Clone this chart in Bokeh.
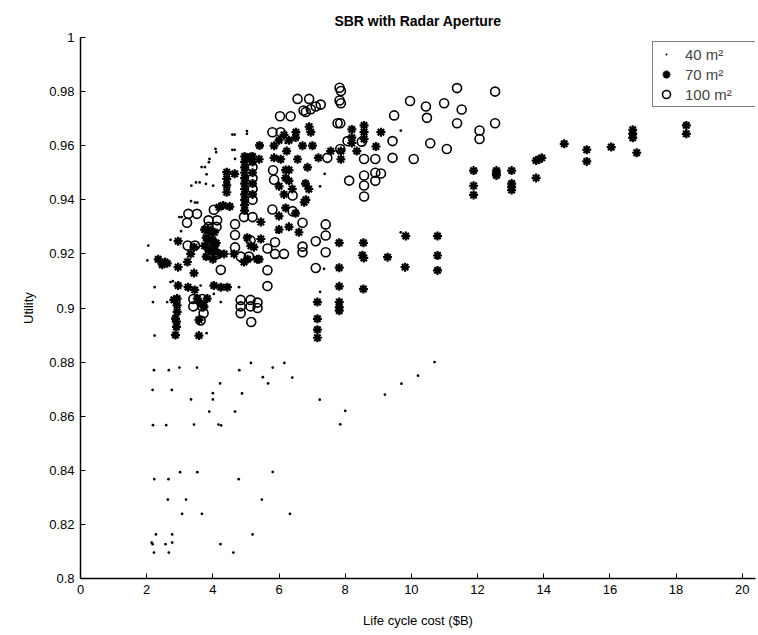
from bokeh.plotting import figure
from bokeh.models import Range1d, FixedTicker, CustomJSTickFormatter, Legend, LegendItem
from bokeh.embed import file_html
from bokeh.resources import INLINE

title_text = "SBR with Radar Aperture"
x_label = "Life cycle cost ($B)"
y_label = "Utility"
series_labels = ["40 m\u00b2", "70 m\u00b2", "100 m\u00b2"]
x_ticks = [0, 2, 4, 6, 8, 10, 12, 14, 16, 18, 20]
y_ticks = [0.8, 0.82, 0.84, 0.86, 0.88, 0.9, 0.92, 0.94, 0.96, 0.98, 1.0]

# 40 m^2 (dots)
a40_x = [2.22, 2.67, 2.99, 3.52, 4.80, 5.15, 5.81, 6.16, 5.51, 6.40, 5.67, 4.22, 2.18, 2.76, 4.00, 4.88,
         3.34, 4.00, 7.23, 3.89, 4.67, 2.19, 2.59, 3.43, 4.17, 4.25, 3.01, 3.53, 5.81, 2.23, 2.66, 4.78,
         2.64, 3.19, 5.48, 3.07, 3.67, 6.33, 2.28, 2.77, 5.20, 2.15, 2.18, 2.57, 2.77, 4.23, 2.22, 2.67, 4.62,
         7.85, 8.0, 9.2, 9.7, 10.2, 10.7,
         2.05, 2.02, 3.04, 2.72, 2.72, 2.79, 2.24, 2.19, 2.62, 2.24, 3.81, 4.24, 4.79, 3.63, 4.03, 5.93, 7.36, 7.24, 9.68,
         4.59, 4.66, 5.03, 5.03, 4.08, 4.10, 4.59, 4.66, 4.67, 3.90, 3.88, 3.66, 3.76, 3.81, 3.49, 3.60, 3.79,
         3.35, 4.01, 3.34, 3.46, 3.53, 2.99, 3.06, 5.5, 6.2, 9.68, 7.38, 7.24]
a40_y = [0.877, 0.877, 0.878, 0.878, 0.877, 0.8797, 0.878, 0.8797, 0.8744, 0.8743, 0.8721, 0.8721, 0.8697, 0.8697, 0.8685, 0.8684,
         0.8662, 0.8662, 0.8661, 0.8617, 0.8617, 0.8567, 0.8567, 0.8569, 0.8569, 0.8566, 0.8393, 0.8393, 0.8394, 0.8367, 0.8367, 0.8367,
         0.8292, 0.8292, 0.8292, 0.8239, 0.8239, 0.8239, 0.8163, 0.8163, 0.8163, 0.8133, 0.8127, 0.8127, 0.8133, 0.8127, 0.8096, 0.8096, 0.8096,
         0.857, 0.862, 0.868, 0.872, 0.875, 0.880,
         0.9231, 0.9176, 0.9284, 0.9252, 0.9096, 0.9099, 0.9077, 0.9022, 0.9022, 0.8898, 0.8907, 0.9022, 0.9077, 0.9083, 0.9052, 0.928, 0.9145, 0.906, 0.928,
         0.9641, 0.9641, 0.9654, 0.9644, 0.9588, 0.9576, 0.9585, 0.9585, 0.9551, 0.9551, 0.9539, 0.9521, 0.9521, 0.9494, 0.9464, 0.9464, 0.9459,
         0.9452, 0.9452, 0.9395, 0.9390, 0.9390, 0.9336, 0.9336, 0.960, 0.961, 0.9656, 0.9496, 0.945]

# 70 m^2 (asterisks)
a70_x = [4.42, 4.66, 4.42, 4.42, 4.42, 4.31, 4.51, 4.19, 5.14, 5.41,
         4.96, 4.96, 4.96, 4.96, 4.96, 4.96, 4.96, 4.96, 4.96, 4.96, 4.96,
         5.2, 5.2, 5.2, 5.2, 5.2,
         2.95, 2.55, 2.62, 2.47, 2.35, 2.95, 3.43, 3.33, 3.23, 3.43, 2.95, 3.25, 3.45, 2.92, 2.92, 2.92, 2.87, 2.82,
         3.53, 3.63, 3.73, 3.83, 3.58, 2.87, 3.58, 4.03, 4.24, 4.44,
         3.75, 3.85, 3.95, 4.05, 3.80, 3.90, 4.00, 4.10, 3.75, 3.85, 3.95, 4.05, 4.20, 3.80, 4.00,
         4.03, 4.34, 4.64, 4.94, 5.24, 5.04, 5.34, 2.9, 2.9, 5.45, 5.45, 5.15, 5.4, 5.05,
         6.51, 6.96, 6.91, 8.57, 8.57, 8.57, 8.2, 8.2, 8.2, 9.08, 6.71, 7.01, 6.23, 5.85, 6.05, 6.56, 7.19, 7.56,
         7.87, 8.35, 8.93, 7.87, 5.14, 5.40, 6.86, 6.20, 6.30, 6.20, 6.30, 6.80, 6.90, 6.15, 6.81, 6.00, 6.40,
         6.00, 6.30, 6.15, 6.50, 5.85, 6.76, 6.00, 6.20, 6.50, 6.30, 6.00, 6.60,
         7.82, 8.55, 9.83, 10.79, 8.52, 8.56, 9.28, 9.81, 10.79, 10.79, 7.82, 7.82, 8.55, 7.16, 7.82, 7.82, 7.82,
         7.16, 7.16, 7.16,
         14.62, 15.30, 16.04, 15.30, 13.77, 13.87, 13.94, 13.77, 11.88, 11.88, 11.88, 12.57, 12.57, 12.57,
         13.03, 13.03, 13.03, 13.03, 16.69, 16.69, 16.69, 16.81, 18.31, 18.31]
a70_y = [0.9502, 0.9496, 0.9477, 0.9453, 0.9428, 0.9379, 0.9375, 0.9373, 0.9558, 0.9601,
         0.936, 0.938, 0.940, 0.942, 0.944, 0.946, 0.948, 0.950, 0.952, 0.954, 0.956,
         0.942, 0.946, 0.950, 0.954, 0.956,
         0.9247, 0.917, 0.9165, 0.916, 0.918, 0.9151, 0.9225, 0.920, 0.917, 0.9129, 0.9083, 0.9077, 0.9067, 0.9035, 0.901, 0.8986, 0.8961, 0.903,
         0.9035, 0.9017, 0.9005, 0.9035, 0.8956, 0.890, 0.8898, 0.9083, 0.9077, 0.9077,
         0.929, 0.929, 0.928, 0.928, 0.926, 0.925, 0.925, 0.924, 0.923, 0.922, 0.921, 0.921, 0.920, 0.919, 0.918,
         0.9225, 0.920, 0.920, 0.917, 0.9225, 0.926, 0.918, 0.895, 0.893, 0.9318, 0.9255, 0.923, 0.918, 0.918,
         0.965, 0.965, 0.967, 0.9675, 0.965, 0.9625, 0.966, 0.963, 0.961, 0.965, 0.960, 0.960, 0.958, 0.9555, 0.955, 0.955, 0.9555, 0.958,
         0.958, 0.958, 0.9597, 0.955, 0.9555, 0.955, 0.952, 0.951, 0.951, 0.948, 0.947, 0.946, 0.944, 0.942, 0.940, 0.945, 0.944,
         0.962, 0.962, 0.964, 0.963, 0.960, 0.9391, 0.934, 0.937, 0.935, 0.930, 0.929, 0.928,
         0.9241, 0.9241, 0.9266, 0.9266, 0.9195, 0.9185, 0.9188, 0.9151, 0.9194, 0.9139, 0.9149, 0.908, 0.907, 0.9022, 0.9022, 0.9003, 0.899,
         0.896, 0.892, 0.889,
         0.9607, 0.9585, 0.9595, 0.9542, 0.9545, 0.955, 0.9555, 0.9481, 0.9508, 0.9452, 0.9418, 0.9508, 0.9498, 0.949,
         0.9508, 0.946, 0.9448, 0.9436, 0.9659, 0.9644, 0.9629, 0.9574, 0.9675, 0.9644]

# 100 m^2 (open circles)
a100_x = [3.26, 3.52, 3.87, 4.13, 4.03, 3.87, 4.11, 4.67, 4.94, 5.20, 5.20, 5.20, 5.20, 5.20, 3.22,
          3.24, 3.46, 3.90, 3.91, 4.14, 4.24, 4.67, 4.84, 5.09, 5.14, 4.67, 3.41, 3.41, 3.68, 3.68, 3.72, 3.63,
          4.84, 4.84, 4.84, 5.14, 5.14, 5.16, 5.35, 5.35,
          7.83, 7.87, 7.83, 7.87, 6.56, 6.91, 6.81, 6.96, 7.11, 7.26, 6.03, 6.35, 6.74, 7.77, 7.85, 9.96, 9.48, 9.43,
          5.80, 6.05, 8.07, 8.50, 7.85, 9.43, 8.91, 8.57, 10.07, 7.46, 5.82, 5.85, 8.12, 8.57, 8.91, 9.08, 8.91,
          8.57, 8.57, 6.41, 5.80, 6.41, 6.71, 7.41, 7.41, 7.11, 6.71, 6.71, 7.41, 5.88, 5.88, 6.15, 5.65, 7.11,
          5.65, 5.65,
          11.38, 10.44, 10.99, 11.52, 12.53, 10.47, 11.38, 12.53, 12.06, 12.06, 10.57, 11.07]
a100_y = [0.9348, 0.9348, 0.9324, 0.9324, 0.9363, 0.930, 0.930, 0.931, 0.9336, 0.9336, 0.9400, 0.944, 0.948, 0.952, 0.9315,
          0.9231, 0.9231, 0.9231, 0.920, 0.920, 0.9141, 0.9224, 0.919, 0.919, 0.925, 0.927, 0.9033, 0.9006, 0.9033, 0.9006, 0.8981, 0.8954,
          0.903, 0.9006, 0.8981, 0.903, 0.9006, 0.8948, 0.902, 0.900,
          0.9814, 0.9802, 0.9767, 0.9757, 0.9773, 0.9773, 0.9725, 0.9735, 0.9745, 0.9752, 0.9709, 0.9709, 0.973, 0.9683, 0.9683, 0.9765, 0.9712, 0.9617,
          0.965, 0.965, 0.9617, 0.9615, 0.9588, 0.9555, 0.9551, 0.9551, 0.9551, 0.9555, 0.9509, 0.9474, 0.9471, 0.949, 0.950, 0.9497, 0.947,
          0.9453, 0.9412, 0.9416, 0.9364, 0.9358, 0.9315, 0.9309, 0.9268, 0.9247, 0.9227, 0.9206, 0.9206, 0.9243, 0.920, 0.920, 0.922, 0.9148,
          0.914, 0.9081,
          0.9813, 0.9745, 0.9757, 0.9734, 0.9800, 0.9703, 0.9683, 0.9683, 0.9656, 0.9625, 0.9609, 0.9588]

FONT = "Liberation Sans"

p = figure(width=758, height=635, output_backend="svg", toolbar_location=None,
           x_range=Range1d(0, 20.4), y_range=Range1d(0.8, 1.0),
           min_border_left=80, min_border_right=3, min_border_top=37, min_border_bottom=57)
p.outline_line_color = None
p.xgrid.visible = False
p.ygrid.visible = False

p.title.text = title_text
p.title.align = "center"
p.title.text_font = FONT
p.title.text_font_size = "14px"
p.title.text_font_style = "bold"
p.title.text_color = "black"
p.title.standoff = 18

for ax in (p.xaxis[0], p.yaxis[0]):
    ax.axis_line_color = "black"
    ax.axis_line_width = 1.5
    ax.major_tick_in = 5
    ax.major_tick_out = 0
    ax.major_tick_line_color = "black"
    ax.minor_tick_line_color = None
    ax.major_label_text_font = FONT
    ax.major_label_text_font_size = "13px"
    ax.major_label_text_color = "black"
    ax.axis_label_text_font = FONT
    ax.axis_label_text_font_size = "13px"
    ax.axis_label_text_font_style = "normal"
    ax.axis_label_text_color = "black"

p.xaxis[0].ticker = FixedTicker(ticks=x_ticks)
p.yaxis[0].ticker = FixedTicker(ticks=y_ticks)
p.yaxis[0].formatter = CustomJSTickFormatter(code="return tick.toFixed(2).replace(/0+$/,'').replace(/\\.$/,'');")
p.xaxis[0].axis_label = x_label
p.yaxis[0].axis_label = y_label
p.xaxis[0].major_label_standoff = 6
p.xaxis[0].axis_label_standoff = 16
p.yaxis[0].major_label_standoff = 6
p.yaxis[0].axis_label_standoff = 10

r40 = p.scatter(a40_x, a40_y, marker="dot", size=11, line_color="black", fill_color="black", line_width=0.8)
r70 = p.scatter(a70_x, a70_y, marker="asterisk", size=9, line_color="black", line_width=2.2)
r100 = p.scatter(a100_x, a100_y, marker="circle", size=9, line_color="black", line_width=1.6, fill_color=None)

legend = Legend(items=[LegendItem(label=series_labels[0], renderers=[r40]),
                       LegendItem(label=series_labels[1], renderers=[r70]),
                       LegendItem(label=series_labels[2], renderers=[r100])],
                location=(572, 471), border_line_color="black", border_line_width=1,
                background_fill_alpha=1, label_text_font=FONT, label_text_font_size="15px",
                glyph_width=22, glyph_height=20, label_height=20, spacing=0, padding=2,
                label_standoff=8, label_width=71, margin=0)
p.add_layout(legend)

open("out.html", "w").write(file_html(p, INLINE))
